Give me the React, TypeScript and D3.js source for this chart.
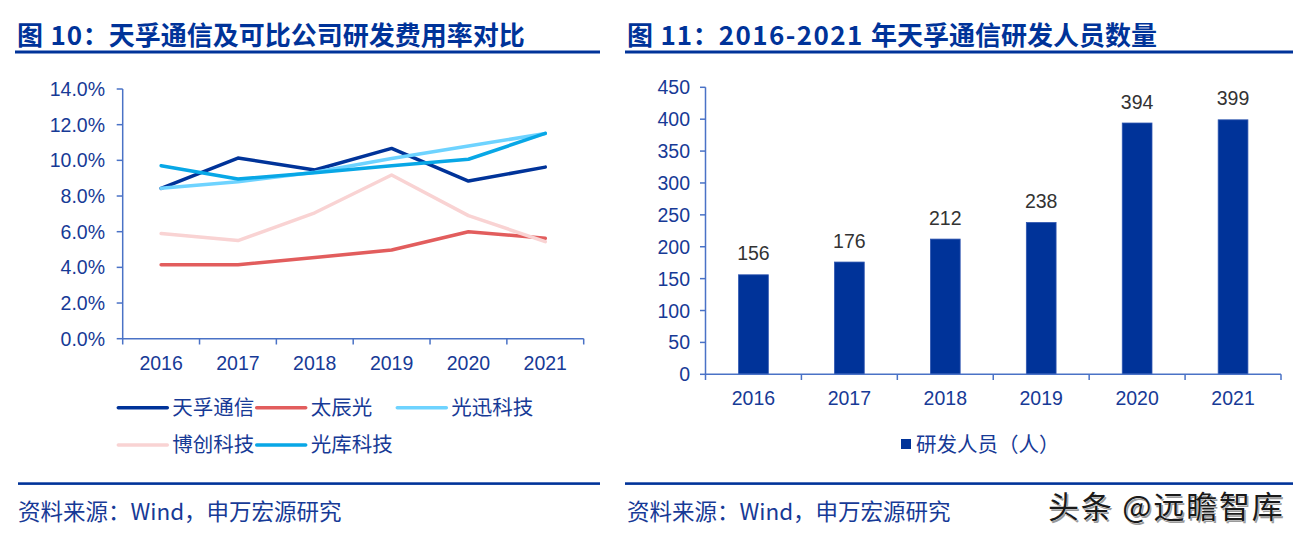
import React from "react";
import * as d3 from "d3";

const years = ["2016", "2017", "2018", "2019", "2020", "2021"];

// Left chart: R&D expense ratio (%)
const seriesNames = ["天孚通信", "太辰光", "光迅科技", "博创科技", "光库科技"];
const tianfu = [8.43, 10.13, 9.46, 10.67, 8.84, 9.62];
const taichenguang = [4.15, 4.15, 4.55, 4.97, 6.0, 5.63];
const guangxun = [8.43, 8.8, 9.33, 10.1, 10.8, 11.5];
const bochuang = [5.9, 5.5, 7.06, 9.18, 6.9, 5.44];
const guangku = [9.7, 8.95, 9.3, 9.7, 10.06, 11.51];
const seriesColors = ["#003399", "#E25D5D", "#6ED3FF", "#F9D3D3", "#08A7E6"];
const pctTicks = [0, 2, 4, 6, 8, 10, 12, 14];

// Right chart: R&D staff count
const staff = [156, 176, 212, 238, 394, 399];
const staffTicks = [0, 50, 100, 150, 200, 250, 300, 350, 400, 450];

const NAVY = "#003399";
const TEXT = "#173A96";
const AXIS = "#4A72C6";
const NUM_FONT = "'Liberation Sans', Arial, sans-serif";
const CJK_FONT = "'Noto Sans CJK SC', 'Noto Sans', sans-serif";

export default function App() {
  const seriesData = [tianfu, taichenguang, guangxun, bochuang, guangku];

  // Left chart scales
  const xL = d3.scaleBand<string>().domain(years).range([122.7, 583.7]);
  const yL = d3.scaleLinear().domain([0, 14]).range([338.7, 89]);
  const line = d3
    .line<number>()
    .x((_, i) => (xL(years[i]) as number) + xL.bandwidth() / 2)
    .y((d) => yL(d));

  // Right chart scales
  const xR = d3.scaleBand<string>().domain(years).range([705.5, 1281]);
  const yR = d3.scaleLinear().domain([0, 450]).range([374.3, 87.3]);
  const barW = xR.bandwidth() * 0.31;

  const legendCols = [118.3, 256.7, 397.3];
  const legendRows = [407.7, 445];

  return (
    <svg
      width={1302}
      height={540}
      style={{ position: "absolute", left: 0, top: 0, background: "#fff" }}
    >
      <rect x={0} y={0} width={1302} height={540} fill="#fff" />
      {/* Titles */}
      <text x={17} y={45} fontFamily={CJK_FONT} fontWeight={700} fontSize={26} fill={NAVY}>
        <tspan letterSpacing={0.8}>图 10</tspan>
        <tspan>：天孚通信及可比公司研发费用率对比</tspan>
      </text>
      <rect x={15} y={50.5} width={585} height={3} fill={NAVY} />
      <text x={627} y={45} fontFamily={CJK_FONT} fontWeight={700} fontSize={26} fill={NAVY}>
        <tspan letterSpacing={0.8}>图 11</tspan>
        <tspan>：</tspan>
        <tspan letterSpacing={1.4}>2016-2021 </tspan>
        <tspan>年天孚通信研发人员数量</tspan>
      </text>
      <rect x={625} y={50.5} width={668} height={3} fill={NAVY} />

      {/* ===== Left chart ===== */}
      <g>
        {pctTicks.map((t) => (
          <g key={t}>
            <line x1={116.7} x2={122.7} y1={yL(t)} y2={yL(t)} stroke={AXIS} strokeWidth={1.5} />
            <text
              x={105}
              y={yL(t)}
              dy="0.36em"
              textAnchor="end"
              fontFamily={NUM_FONT}
              fontSize={19.5}
              fill={TEXT}
            >
              {t.toFixed(1) + "%"}
            </text>
          </g>
        ))}
        <line x1={122.7} x2={122.7} y1={89} y2={344.5} stroke={AXIS} strokeWidth={1.5} />
        <line x1={122.7} x2={583.7} y1={338.7} y2={338.7} stroke={AXIS} strokeWidth={1.5} />
        {years.map((y) => (
          <line
            key={"tl" + y}
            x1={(xL(y) as number) + xL.bandwidth()}
            x2={(xL(y) as number) + xL.bandwidth()}
            y1={338.7}
            y2={344.5}
            stroke={AXIS}
            strokeWidth={1.5}
          />
        ))}
        {years.map((y) => (
          <text
            key={"xl" + y}
            x={(xL(y) as number) + xL.bandwidth() / 2}
            y={370.3}
            textAnchor="middle"
            fontFamily={NUM_FONT}
            fontSize={19.5}
            fill={TEXT}
          >
            {y}
          </text>
        ))}
        {seriesData.map((s, i) => (
          <path
            key={"s" + i}
            d={line(s) as string}
            fill="none"
            stroke={seriesColors[i]}
            strokeWidth={3.5}
            strokeLinejoin="round"
            strokeLinecap="round"
          />
        ))}
        {seriesNames.map((name, i) => {
          const col = i < 3 ? i : i - 3;
          const row = i < 3 ? 0 : 1;
          const lx = legendCols[col];
          const ly = legendRows[row];
          return (
            <g key={"lg" + name}>
              <line x1={lx} x2={lx + 49} y1={ly} y2={ly} stroke={seriesColors[i]} strokeWidth={3.5} strokeLinecap="round" />
              <text x={lx + 54} y={ly} dy="0.36em" fontFamily={CJK_FONT} fontSize={20.5} fill={TEXT}>
                {name}
              </text>
            </g>
          );
        })}
      </g>

      {/* ===== Right chart ===== */}
      <g>
        {staffTicks.map((t) => (
          <g key={"rt" + t}>
            <line x1={700} x2={705.5} y1={yR(t)} y2={yR(t)} stroke={AXIS} strokeWidth={1.5} />
            <text
              x={690}
              y={yR(t)}
              dy="0.36em"
              textAnchor="end"
              fontFamily={NUM_FONT}
              fontSize={19.5}
              fill={TEXT}
            >
              {t}
            </text>
          </g>
        ))}
        {years.map((y, i) => {
          const cx = (xR(y) as number) + xR.bandwidth() / 2;
          return (
            <g key={"bar" + y}>
              <rect
                x={cx - barW / 2}
                y={yR(staff[i])}
                width={barW}
                height={yR(0) - yR(staff[i])}
                fill={NAVY}
                stroke="#2E55B0"
                strokeWidth={0.8}
              />
              <text
                x={cx}
                y={yR(staff[i]) - 14.5}
                textAnchor="middle"
                fontFamily={NUM_FONT}
                fontSize={19.5}
                fill="#333333"
              >
                {staff[i]}
              </text>
              <text
                x={cx}
                y={405.3}
                textAnchor="middle"
                fontFamily={NUM_FONT}
                fontSize={19.5}
                fill={TEXT}
              >
                {y}
              </text>
            </g>
          );
        })}
        <line x1={705.5} x2={705.5} y1={87.3} y2={380} stroke={AXIS} strokeWidth={1.5} />
        <line x1={705.5} x2={1281} y1={374.3} y2={374.3} stroke={AXIS} strokeWidth={1.5} />
        {years.map((y) => (
          <line
            key={"rtl" + y}
            x1={(xR(y) as number) + xR.bandwidth()}
            x2={(xR(y) as number) + xR.bandwidth()}
            y1={374.3}
            y2={380}
            stroke={AXIS}
            strokeWidth={1.5}
          />
        ))}
        <rect x={901} y={439} width={10} height={10} fill={NAVY} />
        <text x={916} y={445} dy="0.36em" fontFamily={CJK_FONT} fontSize={20.5} fill={TEXT}>
          研发人员（人）
        </text>
      </g>

      {/* Footers */}
      <rect x={18} y={482.3} width={582} height={2.6} fill={NAVY} />
      <rect x={625} y={482.3} width={668} height={2.6} fill={NAVY} />
      <text x={18} y={511.7} dy="0.36em" fontFamily={CJK_FONT} fontSize={22.5} fill={TEXT}>
        资料来源：Wind，申万宏源研究
      </text>
      <text x={627} y={511.7} dy="0.36em" fontFamily={CJK_FONT} fontSize={22.5} fill={TEXT}>
        资料来源：Wind，申万宏源研究
      </text>
      {/* Watermark */}
      <text x={1049.5} y={508.5} dy="0.36em" fontFamily={CJK_FONT} fontSize={31} letterSpacing={1.8} fill="#9a9a9a">
        头条 @远瞻智库
      </text>
      <text x={1048} y={507} dy="0.36em" fontFamily={CJK_FONT} fontSize={31} letterSpacing={1.8} fill="#1a1a1a" stroke="#ffffff" strokeWidth={0.6} paintOrder="stroke">
        头条 @远瞻智库
      </text>
    </svg>
  );
}
